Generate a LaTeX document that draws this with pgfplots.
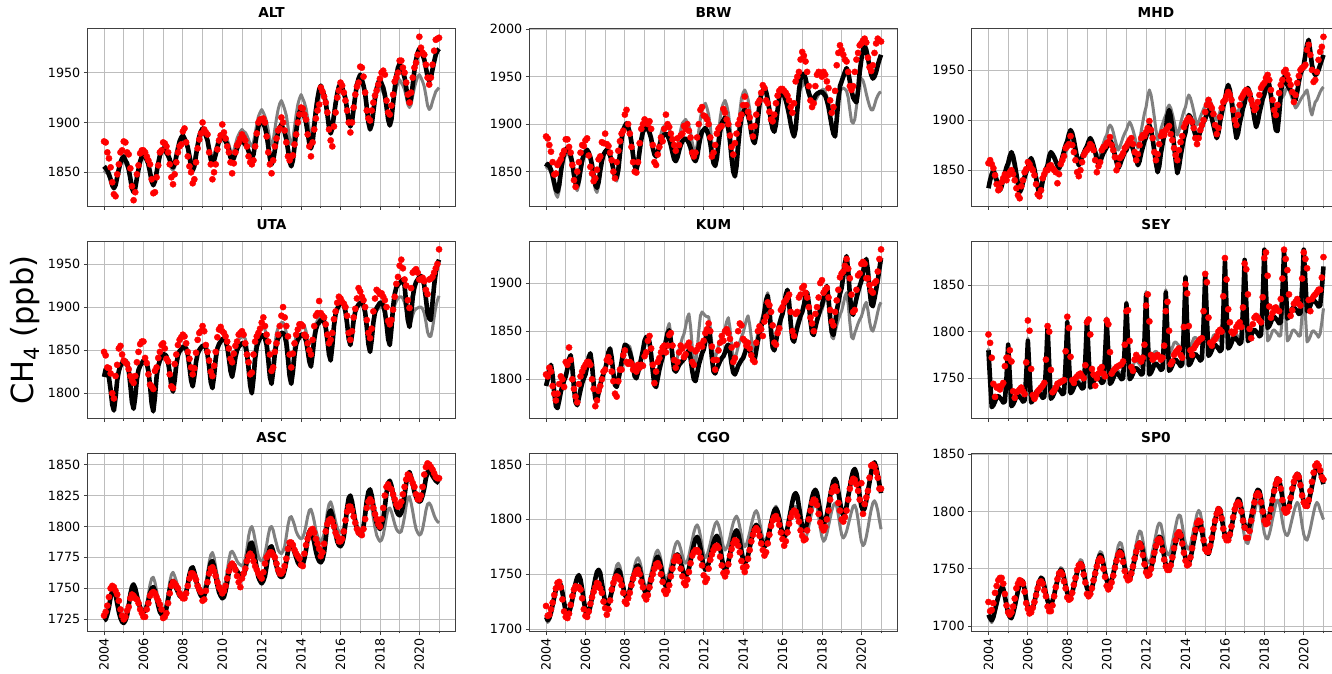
\documentclass[border=0pt]{standalone}
\usepackage{pgfplots}
\pgfplotsset{compat=1.18}
\usepackage{pgfplotstable}
\usepackage{fontspec}
\setmainfont{DejaVu Sans}
\definecolor{gridc}{HTML}{BDBDBD}
\definecolor{modg}{HTML}{808080}
\definecolor{obsr}{HTML}{FF0000}

\pgfplotstableread{
b g r
1856 1852 1881
1854 1850 1880
1852 1849 1870
1848 1846 1864
1843 1842 1855
1837 1838 1840
1834 1836 1828
1837 1839 1826
1845 1845 1848
1853 1852 1858
1860 1857 1870
1864 1860 1872
1866 1862 1881
1862 1859 1880
1859 1856 1870
1853 1852 1868
1844 1845 1854
1834 1836 1836
1830 1833 1822
1834 1836 1830
1844 1845 1848
1853 1853 1857
1861 1859 1869
1866 1864 1872
1869 1866 1872
1866 1863 1870
1863 1861 1866
1858 1857 1862
1850 1850 1858
1841 1843 1843
1837 1840 1829
1841 1843 1830
1850 1851 1845
1859 1859 1857
1867 1866 1870
1871 1870 1872
1874 1872 1880
1872 1870 1879
1870 1868 1876
1867 1865 1870
1863 1860 1858
1857 1854 1845
1855 1852 1838
1858 1855 1848
1866 1863 1860
1874 1870 1870
1881 1876 1876
1885 1880 1878
1887 1882 1891
1884 1880 1894
1880 1878 1880
1875 1874 1866
1866 1869 1856
1856 1863 1850
1852 1860 1839
1856 1863 1843
1867 1871 1860
1877 1878 1874
1886 1884 1883
1891 1888 1889
1894 1890 1900
1891 1888 1893
1887 1885 1890
1882 1881 1888
1873 1875 1870
1863 1868 1858
1859 1865 1843
1862 1868 1850
1868 1874 1858
1875 1880 1873
1881 1885 1882
1884 1888 1887
1886 1890 1898
1884 1888 1890
1881 1886 1884
1878 1883 1876
1872 1878 1870
1865 1872 1860
1862 1870 1849
1864 1872 1859
1869 1878 1870
1874 1884 1877
1878 1888 1880
1881 1891 1884
1882 1893 1888
1880 1891 1885
1878 1890 1882
1876 1887 1876
1871 1883 1866
1866 1878 1860
1864 1876 1858
1868 1880 1862
1878 1889 1876
1888 1898 1889
1896 1906 1900
1901 1910 1903
1904 1913 1903
1899 1910 1904
1895 1906 1900
1888 1901 1886
1876 1892 1870
1864 1882 1858
1858 1878 1849
1862 1882 1862
1872 1893 1876
1882 1904 1884
1890 1913 1892
1895 1919 1894
1898 1922 1905
1894 1918 1900
1890 1913 1892
1883 1907 1880
1873 1896 1866
1861 1883 1862
1856 1878 1866
1862 1883 1867
1876 1896 1878
1891 1908 1888
1902 1918 1900
1910 1924 1908
1914 1928 1915
1910 1924 1914
1906 1920 1908
1900 1914 1903
1890 1904 1888
1879 1893 1876
1874 1888 1866
1880 1893 1880
1896 1905 1893
1912 1917 1904
1924 1927 1912
1933 1934 1918
1937 1937 1935
1932 1933 1931
1927 1929 1926
1920 1923 1920
1908 1913 1910
1895 1902 1893
1889 1897 1882
1894 1901 1876
1907 1911 1896
1919 1921 1910
1929 1929 1925
1936 1934 1932
1939 1937 1940
1935 1934 1937
1930 1930 1930
1924 1925 1922
1913 1916 1912
1901 1906 1900
1896 1902 1890
1901 1906 1900
1914 1917 1915
1927 1927 1928
1938 1936 1936
1944 1941 1940
1948 1944 1956
1943 1940 1955
1937 1936 1946
1929 1929 1930
1915 1919 1912
1900 1907 1904
1893 1902 1902
1898 1905 1912
1911 1914 1920
1924 1922 1927
1934 1929 1932
1940 1934 1938
1944 1936 1944
1939 1933 1950
1935 1930 1952
1928 1925 1948
1916 1917 1922
1903 1909 1910
1897 1905 1908
1903 1909 1917
1919 1918 1928
1934 1928 1941
1947 1935 1945
1955 1940 1950
1959 1943 1962
1955 1940 1962
1951 1937 1955
1945 1933 1950
1935 1926 1940
1924 1918 1928
1919 1915 1920
1925 1918 1930
1938 1927 1945
1952 1935 1955
1963 1941 1960
1970 1946 1968
1974 1948 1986
1971 1945 1975
1968 1941 1970
1963 1936 1968
1955 1927 1958
1946 1917 1945
1942 1913 1938
1945 1915 1945
1953 1921 1958
1961 1926 1972
1968 1931 1983
1972 1933 1984
1974 1935 1985
}\tALT

\pgfplotstableread{
b g r
1855 1853 1887
1858 1855 1885
1856 1852 1878
1852 1849 1871
1846 1842 1860
1838 1833 1847
1831 1826 1848
1829 1823 1857
1836 1830 1860
1850 1844 1863
1861 1856 1868
1869 1864 1872
1873 1868 1884
1875 1870 1884
1872 1867 1876
1867 1862 1870
1859 1854 1857
1847 1842 1841
1838 1833 1834
1835 1830 1850
1841 1836 1860
1852 1848 1870
1862 1858 1878
1868 1865 1877
1871 1868 1883
1873 1870 1885
1870 1867 1867
1865 1862 1855
1857 1853 1848
1845 1841 1840
1836 1831 1843
1833 1828 1852
1839 1835 1863
1851 1848 1866
1861 1859 1881
1868 1867 1880
1871 1870 1890
1873 1872 1879
1871 1869 1877
1867 1866 1870
1861 1859 1862
1852 1850 1850
1845 1843 1843
1843 1840 1860
1852 1849 1872
1869 1866 1882
1884 1881 1890
1894 1891 1893
1898 1895 1910
1901 1898 1915
1897 1894 1900
1891 1888 1890
1881 1879 1876
1867 1864 1860
1856 1854 1850
1852 1850 1849
1859 1857 1860
1872 1871 1880
1884 1882 1895
1892 1890 1900
1895 1894 1905
1897 1896 1903
1895 1894 1900
1891 1890 1903
1885 1884 1895
1875 1874 1878
1868 1867 1860
1866 1865 1857
1870 1870 1868
1877 1881 1876
1883 1890 1886
1887 1896 1882
1889 1898 1895
1890 1900 1910
1888 1897 1900
1884 1894 1897
1878 1887 1890
1870 1878 1884
1863 1871 1878
1861 1868 1872
1865 1874 1885
1872 1885 1878
1878 1894 1888
1882 1901 1890
1884 1903 1898
1885 1905 1895
1883 1902 1900
1880 1898 1893
1875 1891 1886
1868 1881 1870
1863 1873 1866
1861 1870 1870
1866 1878 1886
1877 1893 1900
1886 1906 1915
1892 1916 1918
1894 1919 1909
1896 1922 1908
1893 1917 1905
1888 1910 1900
1880 1898 1886
1868 1880 1866
1859 1867 1870
1856 1862 1878
1864 1871 1890
1879 1890 1895
1892 1906 1897
1901 1917 1898
1904 1922 1916
1907 1925 1912
1902 1920 1905
1895 1912 1900
1882 1898 1888
1864 1878 1876
1850 1863 1868
1845 1858 1880
1856 1870 1890
1877 1893 1900
1895 1913 1905
1907 1927 1910
1912 1933 1920
1916 1936 1929
1913 1932 1920
1909 1926 1913
1902 1916 1907
1891 1900 1897
1883 1889 1887
1880 1885 1898
1889 1893 1910
1906 1910 1922
1921 1924 1925
1931 1933 1933
1935 1937 1941
1938 1940 1938
1934 1936 1925
1926 1929 1922
1915 1918 1913
1903 1906 1905
1895 1898 1903
1892 1895 1910
1900 1902 1922
1915 1915 1930
1928 1927 1935
1934 1933 1937
1934 1934 1937
1930 1930 1935
1925 1926 1933
1918 1920 1930
1910 1912 1925
1900 1902 1918
1892 1894 1912
1887 1890 1922
1895 1897 1945
1915 1914 1950
1935 1930 1955
1948 1938 1968
1952 1940 1976
1953 1945 1972
1948 1942 1966
1940 1936 1955
1933 1930 1940
1928 1925 1925
1925 1922 1918
1926 1922 1922
1930 1925 1940
1932 1928 1952
1933 1931 1955
1934 1934 1953
1934 1936 1950
1932 1937 1955
1930 1934 1952
1925 1929 1945
1918 1922 1938
1908 1915 1925
1898 1912 1912
1890 1912 1918
1887 1915 1935
1905 1922 1962
1925 1930 1975
1940 1935 1983
1945 1937 1978
1950 1938 1973
1955 1937 1968
1959 1935 1966
1955 1928 1955
1945 1915 1940
1935 1903 1936
1928 1901 1940
1925 1905 1955
1923 1918 1968
1935 1932 1975
1955 1945 1983
1968 1948 1985
1978 1946 1988
1983 1940 1990
1978 1932 1986
1970 1925 1970
1960 1919 1960
1952 1915 1956
1948 1915 1962
1950 1920 1975
1955 1926 1985
1962 1930 1990
1968 1933 1988
1973 1934 1987
}\tBRW

\pgfplotstableread{
b g r
1832 1836 1857
1840 1841 1860
1846 1845 1856
1850 1844 1852
1846 1841 1845
1840 1837 1836
1835 1833 1830
1830 1830 1832
1834 1833 1838
1841 1840 1842
1847 1844 1846
1853 1849 1840
1857 1852 1845
1864 1859 1848
1868 1862 1850
1864 1859 1846
1856 1853 1840
1846 1846 1832
1836 1838 1825
1828 1832 1822
1831 1835 1834
1838 1840 1840
1843 1845 1848
1848 1849 1851
1852 1852 1858
1859 1857 1856
1862 1860 1852
1858 1857 1850
1851 1852 1845
1842 1845 1836
1833 1838 1826
1826 1832 1824
1830 1835 1830
1839 1842 1842
1845 1847 1846
1851 1852 1850
1855 1856 1850
1864 1863 1854
1868 1866 1855
1866 1864 1852
1863 1861 1850
1859 1857 1848
1855 1853 1837
1852 1850 1846
1856 1853 1856
1863 1859 1860
1869 1864 1864
1875 1868 1872
1879 1871 1874
1886 1877 1876
1890 1880 1884
1887 1878 1875
1880 1873 1868
1871 1868 1860
1862 1862 1848
1855 1858 1844
1858 1860 1850
1863 1865 1858
1867 1868 1865
1871 1871 1868
1874 1873 1870
1879 1878 1872
1882 1880 1876
1879 1878 1874
1874 1875 1870
1868 1870 1860
1861 1866 1848
1856 1862 1854
1858 1865 1858
1863 1872 1870
1867 1877 1873
1870 1882 1874
1873 1885 1877
1878 1892 1878
1880 1895 1883
1877 1893 1875
1872 1888 1870
1865 1881 1863
1858 1875 1850
1852 1870 1855
1855 1873 1862
1860 1878 1864
1864 1883 1867
1868 1887 1872
1870 1890 1874
1875 1895 1877
1878 1898 1880
1876 1895 1882
1871 1890 1876
1865 1884 1868
1860 1877 1860
1855 1872 1866
1859 1878 1875
1867 1889 1882
1873 1898 1885
1879 1907 1884
1883 1913 1888
1891 1924 1892
1895 1930 1899
1890 1925 1890
1881 1915 1882
1869 1903 1868
1857 1890 1860
1848 1880 1866
1854 1884 1876
1867 1891 1884
1876 1896 1888
1885 1901 1885
1891 1905 1890
1904 1912 1892
1910 1915 1894
1904 1912 1886
1891 1906 1880
1875 1899 1872
1860 1891 1865
1847 1885 1860
1853 1889 1870
1864 1897 1878
1873 1903 1884
1882 1909 1893
1888 1913 1897
1899 1921 1900
1905 1925 1902
1903 1922 1900
1898 1916 1898
1891 1909 1892
1885 1901 1882
1880 1895 1876
1883 1898 1882
1889 1903 1890
1894 1907 1895
1898 1911 1900
1901 1914 1908
1907 1919 1915
1910 1922 1920
1907 1920 1915
1902 1915 1912
1895 1910 1906
1888 1904 1895
1882 1900 1886
1887 1903 1892
1898 1909 1903
1906 1914 1912
1914 1918 1918
1919 1921 1920
1930 1927 1924
1935 1930 1928
1930 1928 1925
1919 1923 1920
1906 1916 1910
1893 1910 1900
1882 1905 1895
1887 1908 1905
1897 1913 1915
1904 1916 1922
1912 1920 1925
1917 1923 1928
1927 1928 1930
1932 1930 1929
1928 1928 1926
1920 1923 1920
1911 1918 1915
1901 1912 1910
1893 1908 1912
1898 1910 1918
1907 1915 1925
1914 1918 1932
1921 1921 1935
1926 1923 1937
1935 1928 1942
1940 1930 1945
1935 1928 1940
1925 1924 1930
1912 1919 1920
1900 1914 1910
1890 1910 1905
1889 1912 1915
1905 1917 1927
1925 1920 1935
1940 1923 1940
1943 1925 1948
1938 1930 1950
1935 1932 1945
1932 1930 1940
1930 1926 1935
1927 1921 1928
1922 1916 1918
1920 1912 1925
1928 1914 1937
1938 1917 1944
1946 1920 1950
1950 1923 1952
1955 1925 1953
1965 1928 1955
1975 1930 1970
1980 1922 1975
1968 1910 1965
1955 1905 1950
1948 1912 1938
1945 1918 1940
1946 1920 1948
1950 1924 1960
1955 1928 1968
1960 1931 1973
1965 1933 1983
}\tMHD

\pgfplotstableread{
b g r
1819 1822 1848
1828 1825 1844
1826 1823 1830
1818 1817 1829
1804 1806 1823
1787 1792 1800
1780 1786 1794
1795 1798 1820
1815 1815 1833
1826 1825 1852
1832 1830 1855
1835 1833 1845
1838 1835 1838
1838 1835 1836
1835 1833 1834
1827 1826 1828
1810 1812 1820
1790 1795 1815
1782 1788 1812
1796 1800 1820
1816 1817 1836
1827 1826 1848
1832 1831 1857
1835 1834 1860
1838 1836 1860
1838 1836 1841
1835 1833 1835
1826 1826 1822
1809 1811 1810
1788 1793 1808
1779 1785 1805
1796 1800 1826
1819 1820 1830
1832 1831 1841
1838 1837 1848
1842 1840 1856
1845 1843 1858
1845 1843 1852
1843 1841 1840
1836 1836 1837
1824 1825 1822
1808 1812 1808
1802 1806 1806
1815 1818 1834
1833 1834 1845
1844 1843 1856
1849 1847 1862
1851 1850 1865
1854 1852 1868
1854 1852 1866
1852 1850 1858
1845 1844 1848
1831 1832 1840
1815 1818 1830
1808 1812 1822
1820 1823 1829
1836 1838 1847
1846 1847 1862
1850 1852 1870
1853 1854 1872
1855 1856 1878
1855 1856 1872
1853 1854 1856
1845 1847 1848
1831 1834 1838
1813 1819 1825
1806 1812 1820
1820 1825 1832
1840 1842 1848
1852 1852 1865
1857 1857 1874
1860 1860 1877
1863 1862 1872
1863 1862 1870
1861 1860 1866
1854 1855 1860
1841 1844 1852
1826 1831 1840
1819 1825 1836
1829 1835 1846
1842 1850 1855
1850 1858 1860
1854 1862 1868
1856 1864 1870
1858 1866 1872
1858 1866 1868
1855 1863 1858
1846 1855 1845
1829 1839 1836
1809 1820 1822
1800 1812 1824
1817 1828 1845
1840 1851 1860
1854 1864 1866
1860 1871 1870
1864 1874 1875
1867 1877 1882
1867 1877 1888
1864 1874 1878
1856 1866 1868
1839 1849 1860
1819 1829 1845
1811 1820 1826
1826 1836 1830
1846 1857 1848
1858 1870 1858
1864 1876 1868
1867 1879 1878
1870 1882 1890
1870 1882 1900
1867 1879 1888
1858 1870 1878
1840 1852 1866
1820 1831 1845
1811 1822 1830
1825 1837 1846
1845 1857 1858
1857 1868 1868
1862 1874 1874
1865 1877 1880
1868 1880 1880
1868 1880 1878
1866 1878 1868
1861 1872 1866
1850 1860 1858
1837 1846 1850
1831 1840 1845
1845 1853 1862
1863 1870 1878
1874 1880 1890
1880 1885 1893
1882 1888 1907
1885 1890 1893
1885 1890 1890
1883 1888 1888
1876 1881 1880
1862 1868 1868
1845 1852 1858
1838 1845 1862
1855 1860 1870
1878 1881 1886
1892 1893 1895
1898 1899 1905
1902 1902 1912
1905 1905 1910
1905 1905 1906
1903 1903 1904
1895 1896 1900
1881 1883 1890
1863 1867 1870
1856 1860 1862
1868 1871 1872
1885 1886 1888
1895 1894 1898
1900 1899 1910
1903 1901 1922
1905 1903 1918
1905 1903 1912
1902 1901 1908
1894 1893 1900
1877 1879 1885
1857 1862 1870
1848 1855 1864
1862 1866 1875
1882 1882 1895
1894 1891 1910
1899 1896 1920
1902 1898 1918
1905 1900 1915
1905 1900 1916
1903 1898 1912
1895 1892 1908
1881 1881 1900
1863 1868 1884
1856 1862 1880
1875 1875 1885
1900 1892 1897
1915 1902 1912
1923 1907 1927
1926 1910 1935
1928 1912 1948
1930 1912 1955
1932 1910 1945
1925 1905 1932
1904 1895 1925
1885 1883 1908
1877 1878 1899
1892 1884 1922
1912 1891 1940
1923 1896 1942
1929 1898 1944
1932 1899 1940
1935 1900 1932
1936 1900 1932
1933 1898 1934
1925 1893 1930
1910 1883 1920
1893 1871 1915
1887 1866 1932
1885 1866 1933
1905 1875 1935
1925 1888 1940
1940 1900 1945
1950 1908 1950
1955 1913 1967
}\tUTA

\pgfplotstableread{
b g r
1793 1795 1805
1800 1801 1803
1810 1808 1812
1815 1812 1808
1804 1802 1793
1786 1787 1785
1772 1775 1778
1770 1773 1785
1778 1780 1795
1787 1788 1803
1793 1794 1800
1799 1798 1792
1803 1802 1818
1811 1810 1815
1821 1818 1833
1825 1822 1820
1812 1810 1800
1791 1792 1790
1776 1778 1782
1773 1776 1776
1781 1783 1795
1789 1791 1803
1796 1797 1808
1801 1801 1812
1805 1805 1815
1813 1813 1818
1823 1821 1818
1827 1825 1815
1815 1814 1800
1795 1796 1790
1780 1782 1772
1778 1780 1778
1786 1788 1788
1794 1795 1793
1801 1801 1800
1806 1806 1808
1810 1810 1810
1818 1818 1820
1828 1826 1823
1832 1830 1818
1822 1821 1808
1806 1807 1798
1794 1797 1785
1792 1795 1782
1799 1801 1798
1808 1807 1810
1818 1812 1810
1828 1818 1825
1836 1827 1830
1835 1833 1818
1832 1835 1816
1828 1834 1818
1822 1827 1816
1812 1814 1810
1803 1805 1813
1801 1803 1808
1807 1809 1815
1814 1816 1812
1822 1821 1815
1830 1825 1814
1840 1833 1824
1844 1840 1828
1842 1845 1840
1838 1844 1845
1825 1832 1832
1808 1815 1815
1794 1800 1796
1792 1798 1808
1801 1807 1818
1810 1816 1822
1817 1823 1828
1823 1829 1833
1830 1834 1835
1840 1843 1828
1848 1853 1835
1851 1858 1846
1840 1847 1848
1823 1830 1835
1810 1817 1820
1808 1815 1812
1811 1823 1818
1815 1831 1828
1817 1837 1835
1819 1843 1832
1821 1847 1823
1824 1855 1826
1828 1864 1835
1830 1868 1838
1822 1855 1832
1809 1834 1818
1800 1818 1815
1798 1815 1829
1806 1830 1831
1815 1850 1835
1821 1866 1836
1827 1870 1834
1831 1868 1840
1839 1866 1848
1849 1865 1852
1853 1865 1858
1841 1854 1850
1822 1837 1834
1808 1824 1820
1806 1822 1810
1811 1828 1820
1815 1835 1830
1819 1840 1838
1822 1844 1845
1824 1848 1840
1828 1853 1850
1834 1860 1852
1836 1864 1848
1828 1853 1842
1816 1835 1833
1807 1822 1818
1805 1820 1822
1809 1827 1836
1814 1834 1850
1817 1839 1858
1820 1844 1856
1822 1848 1842
1827 1855 1840
1832 1862 1835
1834 1866 1838
1831 1857 1832
1825 1843 1825
1821 1832 1820
1820 1830 1818
1830 1839 1838
1840 1848 1850
1848 1855 1855
1855 1861 1852
1860 1866 1845
1870 1875 1860
1882 1885 1865
1887 1890 1880
1873 1877 1877
1850 1856 1870
1833 1841 1856
1830 1838 1838
1839 1846 1836
1849 1854 1848
1856 1860 1853
1863 1865 1872
1868 1869 1875
1877 1876 1880
1888 1885 1882
1893 1890 1885
1880 1879 1888
1858 1861 1870
1842 1847 1850
1839 1845 1845
1847 1852 1868
1854 1859 1870
1860 1864 1885
1866 1868 1888
1870 1872 1895
1877 1879 1897
1886 1886 1890
1890 1890 1885
1879 1880 1875
1861 1863 1864
1848 1850 1858
1846 1848 1850
1854 1854 1868
1861 1860 1875
1867 1865 1885
1873 1869 1900
1877 1872 1903
1884 1878 1890
1893 1885 1893
1897 1888 1895
1884 1877 1885
1864 1858 1872
1849 1844 1860
1846 1842 1856
1858 1849 1870
1871 1856 1882
1880 1862 1893
1889 1867 1906
1895 1871 1910
1907 1878 1912
1921 1886 1918
1928 1890 1925
1913 1878 1915
1888 1859 1905
1870 1844 1888
1867 1842 1870
1876 1848 1872
1884 1853 1893
1891 1858 1908
1897 1862 1910
1902 1865 1920
1911 1871 1922
1920 1877 1920
1925 1880 1905
1913 1872 1905
1893 1860 1898
1878 1852 1892
1876 1850 1890
1884 1855 1900
1893 1862 1902
1903 1870 1912
1915 1877 1925
1926 1880 1935
}\tKUM

\pgfplotstableread{
b g r
1780 1782 1797
1748 1749 1788
1719 1719 1772
1721 1721 1744
1725 1725 1730
1730 1730 1740
1731 1731 1741
1729 1729 1738
1727 1727 1742
1724 1724 1745
1725 1725 1763
1751 1751 1772
1786 1787 1772
1751 1752 1780
1720 1721 1768
1722 1723 1736
1726 1727 1729
1731 1732 1735
1732 1733 1736
1730 1731 1738
1728 1729 1740
1725 1726 1736
1726 1727 1733
1753 1755 1767
1790 1793 1812
1755 1757 1801
1724 1725 1760
1726 1727 1732
1730 1731 1728
1735 1736 1732
1736 1737 1736
1734 1735 1738
1732 1733 1740
1729 1730 1742
1730 1731 1745
1761 1763 1770
1805 1808 1806
1764 1766 1800
1728 1730 1759
1730 1732 1735
1734 1736 1737
1739 1741 1740
1740 1742 1744
1738 1740 1745
1736 1738 1746
1733 1735 1747
1734 1736 1748
1766 1768 1779
1810 1812 1816
1769 1772 1804
1734 1737 1773
1736 1739 1748
1740 1743 1745
1745 1748 1750
1746 1749 1752
1744 1747 1754
1742 1745 1755
1739 1742 1752
1740 1743 1750
1770 1772 1764
1812 1813 1810
1774 1775 1813
1740 1742 1797
1742 1744 1760
1746 1748 1754
1751 1753 1742
1752 1754 1750
1750 1752 1755
1748 1750 1760
1745 1747 1762
1746 1748 1755
1774 1776 1752
1812 1815 1812
1776 1780 1808
1744 1748 1778
1746 1750 1755
1750 1754 1758
1755 1759 1760
1756 1760 1762
1754 1758 1763
1752 1756 1764
1749 1753 1765
1750 1754 1768
1783 1786 1786
1830 1832 1822
1786 1792 1823
1749 1757 1790
1751 1759 1762
1755 1763 1758
1760 1768 1770
1761 1769 1775
1759 1767 1772
1757 1765 1770
1754 1762 1768
1755 1763 1772
1790 1796 1786
1840 1843 1828
1793 1802 1840
1754 1767 1811
1756 1769 1775
1760 1773 1770
1765 1778 1772
1766 1779 1774
1764 1777 1775
1762 1775 1773
1759 1772 1770
1760 1773 1772
1794 1803 1785
1842 1845 1822
1796 1809 1832
1758 1777 1801
1760 1779 1765
1764 1783 1768
1769 1788 1775
1770 1789 1778
1768 1787 1780
1766 1785 1782
1763 1782 1775
1765 1783 1772
1803 1815 1805
1858 1860 1851
1806 1818 1841
1764 1782 1806
1766 1784 1780
1770 1788 1775
1775 1793 1782
1776 1794 1785
1774 1792 1788
1772 1790 1790
1769 1787 1792
1771 1788 1793
1808 1818 1822
1862 1860 1862
1814 1820 1853
1774 1785 1815
1776 1787 1788
1780 1791 1785
1785 1796 1790
1786 1797 1792
1784 1795 1795
1782 1793 1800
1779 1790 1802
1781 1791 1800
1819 1822 1838
1875 1865 1879
1824 1823 1856
1782 1787 1824
1784 1789 1810
1788 1793 1800
1793 1798 1798
1794 1799 1800
1792 1797 1805
1790 1795 1808
1787 1792 1810
1789 1793 1805
1825 1821 1826
1877 1860 1873
1830 1822 1867
1790 1789 1840
1792 1791 1803
1796 1795 1793
1801 1800 1808
1802 1801 1815
1800 1799 1817
1798 1797 1815
1795 1795 1812
1797 1795 1810
1834 1820 1837
1888 1855 1879
1842 1821 1885
1804 1790 1860
1806 1792 1827
1810 1796 1815
1815 1801 1820
1816 1802 1825
1814 1800 1826
1812 1798 1823
1809 1795 1822
1810 1796 1835
1842 1819 1857
1886 1850 1888
1848 1819 1878
1814 1790 1866
1816 1792 1840
1820 1796 1817
1825 1801 1823
1826 1802 1830
1824 1800 1832
1822 1798 1835
1819 1795 1830
1820 1796 1828
1848 1819 1857
1888 1850 1885
1853 1818 1878
1822 1789 1868
1824 1791 1834
1828 1795 1822
1833 1800 1835
1834 1801 1838
1832 1799 1840
1830 1797 1842
1827 1794 1845
1828 1798 1845
1846 1810 1858
1870 1825 1880
}\tSEY

\pgfplotstableread{
b g r
1724 1726 1728
1725 1727 1731
1729 1730 1736
1735 1735 1743
1743 1741 1750
1748 1745 1752
1749 1746 1751
1745 1743 1748
1738 1738 1745
1731 1732 1740
1726 1728 1733
1723 1726 1728
1722 1725 1725
1724 1726 1727
1728 1731 1732
1736 1738 1735
1745 1747 1742
1751 1753 1745
1753 1754 1744
1750 1751 1742
1744 1746 1741
1739 1740 1738
1734 1736 1733
1732 1734 1730
1731 1733 1727
1732 1734 1727
1735 1738 1733
1740 1745 1738
1746 1753 1744
1750 1758 1746
1751 1759 1747
1748 1755 1746
1742 1748 1743
1736 1741 1740
1731 1736 1737
1729 1733 1733
1728 1732 1726
1729 1734 1727
1734 1738 1730
1741 1746 1738
1749 1755 1746
1755 1761 1752
1756 1763 1755
1754 1760 1754
1750 1756 1752
1747 1751 1750
1744 1748 1746
1743 1746 1744
1742 1745 1742
1743 1746 1742
1747 1749 1746
1753 1754 1752
1761 1761 1758
1766 1765 1762
1767 1766 1762
1763 1763 1760
1757 1759 1757
1751 1754 1752
1747 1751 1749
1744 1749 1747
1743 1748 1740
1744 1750 1741
1749 1754 1748
1756 1762 1755
1765 1771 1762
1771 1777 1766
1772 1779 1767
1768 1775 1764
1760 1767 1760
1753 1760 1755
1747 1754 1751
1744 1751 1749
1742 1750 1746
1743 1752 1748
1748 1756 1752
1755 1764 1758
1763 1773 1764
1769 1779 1768
1770 1780 1770
1769 1778 1768
1766 1775 1765
1764 1772 1760
1762 1770 1755
1761 1769 1751
1760 1768 1758
1761 1770 1762
1765 1774 1766
1772 1782 1772
1780 1792 1776
1786 1798 1778
1787 1800 1776
1782 1796 1772
1774 1789 1768
1766 1782 1765
1759 1776 1762
1756 1773 1760
1754 1772 1758
1756 1773 1763
1760 1778 1770
1768 1785 1775
1777 1793 1777
1783 1799 1779
1784 1800 1779
1780 1797 1777
1774 1791 1775
1768 1786 1770
1763 1781 1765
1760 1779 1762
1759 1778 1762
1760 1780 1764
1765 1784 1768
1772 1792 1774
1780 1801 1782
1786 1807 1787
1787 1808 1787
1784 1805 1785
1779 1801 1781
1775 1796 1778
1771 1793 1776
1769 1791 1774
1768 1790 1769
1769 1791 1768
1774 1795 1778
1781 1801 1785
1790 1808 1790
1796 1813 1794
1797 1814 1797
1793 1810 1798
1787 1804 1795
1780 1797 1790
1775 1792 1786
1772 1789 1782
1771 1788 1776
1773 1790 1779
1779 1794 1786
1790 1802 1796
1803 1812 1802
1811 1818 1805
1813 1820 1806
1809 1816 1804
1801 1810 1800
1794 1804 1795
1788 1799 1792
1785 1796 1788
1784 1795 1788
1786 1796 1790
1792 1800 1796
1802 1806 1805
1815 1814 1812
1823 1819 1816
1825 1820 1816
1820 1817 1813
1812 1811 1808
1804 1805 1803
1798 1800 1798
1795 1798 1795
1793 1797 1795
1795 1798 1793
1800 1802 1798
1810 1807 1806
1821 1814 1815
1828 1819 1820
1830 1820 1822
1825 1815 1820
1817 1807 1815
1809 1799 1810
1803 1793 1806
1800 1790 1802
1798 1788 1800
1800 1789 1806
1806 1793 1815
1816 1800 1825
1827 1808 1832
1835 1814 1834
1837 1815 1831
1833 1812 1830
1826 1807 1826
1819 1802 1822
1813 1798 1818
1810 1796 1816
1809 1795 1817
1811 1796 1820
1816 1801 1826
1825 1808 1832
1835 1817 1838
1842 1823 1842
1844 1824 1841
1840 1819 1838
1834 1812 1835
1828 1804 1832
1824 1798 1826
1821 1795 1822
1820 1793 1822
1821 1794 1825
1825 1798 1832
1831 1805 1842
1839 1813 1848
1844 1818 1851
1845 1819 1850
1844 1817 1848
1841 1813 1846
1839 1809 1843
1837 1806 1840
1836 1804 1839
1835 1803 1839
}\tASC

\pgfplotstableread{
b g r
1711 1709 1721
1708 1706 1712
1710 1708 1713
1715 1713 1718
1722 1720 1724
1729 1727 1731
1736 1734 1737
1741 1739 1742
1743 1741 1743
1740 1738 1738
1733 1731 1727
1724 1722 1716
1716 1715 1711
1713 1712 1710
1715 1714 1714
1720 1720 1722
1727 1727 1730
1735 1735 1736
1742 1742 1739
1747 1748 1738
1749 1750 1738
1745 1746 1736
1736 1737 1728
1726 1727 1718
1717 1718 1712
1713 1714 1711
1715 1716 1716
1721 1722 1723
1729 1730 1729
1738 1737 1734
1746 1745 1738
1752 1751 1742
1754 1753 1741
1751 1750 1737
1742 1742 1733
1733 1733 1725
1724 1725 1719
1721 1722 1713
1723 1724 1718
1728 1730 1726
1734 1737 1736
1741 1745 1742
1747 1752 1746
1752 1758 1748
1754 1760 1747
1752 1757 1745
1745 1750 1740
1738 1741 1733
1731 1734 1725
1729 1731 1723
1730 1733 1728
1735 1738 1733
1741 1745 1740
1746 1751 1746
1752 1758 1750
1757 1763 1753
1758 1765 1754
1755 1762 1750
1749 1756 1743
1741 1747 1738
1735 1741 1730
1732 1738 1727
1734 1740 1731
1739 1745 1738
1746 1752 1745
1752 1758 1750
1759 1765 1755
1764 1770 1759
1766 1772 1760
1763 1769 1757
1757 1763 1750
1748 1754 1743
1742 1748 1735
1739 1745 1732
1740 1747 1735
1745 1752 1740
1751 1759 1748
1756 1766 1755
1762 1773 1762
1767 1778 1766
1768 1780 1766
1766 1778 1762
1761 1773 1755
1755 1767 1748
1750 1762 1742
1748 1760 1740
1750 1762 1745
1755 1767 1752
1762 1774 1760
1770 1781 1767
1777 1788 1770
1782 1793 1772
1784 1795 1772
1781 1792 1770
1774 1785 1765
1765 1776 1758
1757 1768 1749
1754 1765 1743
1756 1767 1746
1760 1772 1755
1766 1778 1763
1773 1785 1768
1779 1791 1772
1783 1796 1775
1785 1798 1776
1782 1795 1774
1774 1789 1766
1765 1781 1758
1757 1775 1751
1754 1772 1748
1756 1774 1752
1761 1778 1759
1768 1784 1767
1776 1791 1773
1783 1797 1778
1788 1801 1781
1790 1803 1780
1787 1800 1776
1780 1793 1770
1771 1785 1762
1763 1778 1756
1760 1775 1752
1762 1777 1757
1767 1782 1764
1774 1788 1772
1781 1795 1780
1788 1801 1786
1793 1806 1790
1795 1808 1792
1793 1805 1790
1788 1798 1785
1782 1790 1778
1777 1783 1772
1775 1780 1767
1777 1782 1770
1782 1786 1778
1789 1793 1786
1796 1799 1794
1803 1806 1799
1808 1810 1802
1810 1812 1803
1807 1809 1800
1801 1803 1795
1793 1794 1788
1787 1788 1782
1784 1785 1776
1786 1786 1780
1792 1790 1788
1800 1796 1796
1808 1801 1802
1816 1807 1806
1822 1811 1808
1824 1812 1807
1821 1809 1803
1812 1801 1798
1802 1791 1790
1793 1783 1785
1790 1780 1781
1792 1782 1782
1797 1787 1790
1805 1794 1800
1812 1801 1808
1820 1808 1815
1825 1813 1818
1827 1815 1817
1824 1812 1813
1816 1803 1805
1807 1792 1797
1799 1784 1793
1796 1780 1790
1798 1782 1793
1804 1787 1800
1812 1794 1808
1821 1801 1818
1829 1808 1825
1835 1813 1829
1837 1815 1830
1834 1812 1826
1825 1804 1815
1816 1794 1808
1807 1786 1800
1804 1783 1798
1806 1785 1802
1812 1789 1808
1821 1795 1818
1829 1801 1828
1838 1807 1834
1844 1812 1837
1846 1813 1836
1842 1809 1832
1833 1800 1826
1821 1789 1818
1812 1780 1833
1808 1776 1805
1810 1778 1814
1817 1784 1820
1826 1792 1826
1834 1801 1838
1843 1809 1849
1850 1815 1850
1852 1817 1848
1848 1814 1843
1840 1808 1838
1832 1799 1828
1824 1791 1828
}\tCGO

\pgfplotstableread{
b g r
1710 1708 1721
1707 1705 1713
1705 1703 1714
1708 1706 1720
1714 1712 1729
1720 1718 1735
1726 1724 1740
1731 1729 1742
1734 1732 1742
1733 1731 1737
1726 1724 1728
1718 1716 1718
1711 1710 1712
1708 1707 1710
1707 1706 1712
1711 1710 1717
1717 1716 1724
1724 1723 1733
1731 1730 1737
1737 1736 1740
1740 1739 1739
1739 1738 1737
1732 1731 1730
1723 1722 1720
1716 1715 1715
1713 1712 1711
1712 1711 1712
1716 1715 1716
1721 1721 1721
1728 1728 1727
1734 1734 1733
1739 1740 1738
1742 1743 1739
1741 1742 1737
1735 1736 1731
1728 1728 1726
1722 1722 1717
1718 1719 1713
1718 1718 1713
1722 1722 1718
1727 1728 1726
1734 1735 1734
1740 1742 1741
1746 1748 1746
1749 1751 1747
1748 1750 1745
1742 1744 1739
1735 1736 1733
1729 1730 1725
1726 1727 1723
1726 1726 1724
1729 1730 1729
1735 1736 1736
1741 1743 1742
1747 1749 1749
1752 1755 1753
1755 1758 1754
1754 1757 1752
1747 1750 1745
1739 1742 1738
1733 1735 1728
1730 1732 1726
1729 1731 1728
1733 1735 1733
1739 1741 1740
1746 1749 1746
1753 1755 1752
1759 1762 1757
1762 1765 1759
1761 1764 1757
1754 1757 1750
1746 1749 1743
1740 1742 1735
1737 1739 1732
1736 1738 1734
1740 1742 1738
1745 1749 1744
1752 1756 1751
1758 1763 1757
1763 1770 1762
1766 1773 1764
1765 1772 1762
1759 1765 1756
1751 1756 1748
1745 1749 1743
1741 1746 1740
1741 1745 1741
1745 1750 1746
1751 1756 1752
1758 1765 1759
1764 1772 1765
1770 1779 1770
1773 1783 1772
1772 1782 1769
1765 1775 1762
1757 1766 1754
1750 1759 1747
1747 1756 1744
1746 1755 1745
1750 1759 1750
1756 1766 1757
1763 1773 1764
1769 1780 1770
1775 1787 1775
1778 1790 1776
1777 1789 1773
1769 1782 1766
1761 1773 1758
1753 1766 1752
1750 1763 1749
1749 1762 1749
1753 1766 1753
1759 1773 1760
1766 1780 1768
1773 1787 1775
1779 1794 1780
1782 1797 1782
1781 1796 1779
1774 1788 1772
1766 1779 1764
1759 1772 1757
1756 1768 1753
1755 1767 1754
1759 1771 1760
1766 1777 1768
1774 1785 1777
1781 1791 1784
1787 1798 1790
1791 1801 1792
1790 1799 1791
1783 1791 1784
1774 1781 1775
1767 1772 1767
1764 1768 1765
1763 1767 1765
1768 1771 1770
1775 1777 1777
1784 1784 1785
1792 1791 1792
1799 1797 1798
1803 1800 1802
1802 1799 1800
1795 1793 1794
1786 1786 1785
1779 1780 1778
1776 1776 1775
1775 1776 1775
1779 1780 1780
1786 1785 1787
1794 1792 1795
1801 1798 1802
1807 1803 1806
1811 1806 1808
1810 1804 1806
1803 1796 1800
1795 1786 1792
1788 1777 1786
1785 1773 1777
1784 1772 1777
1788 1777 1783
1795 1783 1792
1802 1792 1800
1809 1799 1808
1816 1806 1814
1819 1810 1816
1818 1808 1814
1811 1800 1808
1803 1790 1800
1796 1781 1792
1793 1777 1789
1792 1776 1790
1796 1780 1795
1803 1786 1802
1811 1794 1810
1819 1800 1818
1825 1807 1824
1829 1810 1828
1828 1808 1827
1821 1801 1820
1812 1791 1810
1805 1784 1802
1802 1780 1799
1801 1779 1800
1805 1782 1804
1811 1788 1812
1818 1794 1820
1824 1800 1826
1830 1805 1830
1833 1808 1832
1832 1806 1830
1824 1798 1823
1816 1788 1814
1808 1780 1808
1805 1776 1805
1804 1775 1805
1808 1779 1810
1815 1785 1818
1822 1792 1826
1829 1799 1834
1836 1805 1840
1839 1808 1842
1838 1806 1840
1834 1801 1836
1829 1797 1830
1824 1793 1828
}\tSPO

\newcommand\drawpanel[1]{%
  \addplot[modg, line width=3pt, line join=round] table[x expr=2004+\coordindex/12, y=g]{#1};
  \addplot[black, line width=4.6pt, line join=round] table[x expr=2004+\coordindex/12, y=b]{#1};
  \addplot[only marks, mark=*, mark size=3.1pt, mark options={draw=obsr, fill=obsr}] table[x expr=2004+\coordindex/12, y=r]{#1};
}

\pgfplotsset{
  panel/.style={
    scale only axis, width=368.5pt, height=177.7pt,
    anchor=south west,
    xmin=2003.15, xmax=2021.85,
    xtick={2004,2006,...,2020},
    minor xtick={2005,2007,...,2021},
    grid=both,
    major grid style={draw=gridc, line width=0.8pt},
    minor grid style={draw=gridc, line width=0.8pt},
    axis line style={draw=black!75, line width=0.8pt},
    every tick/.style={draw=black!75, line width=0.8pt},
    major tick length=3.5pt, minor tick length=2pt,
    tick align=outside, xtick pos=bottom, ytick pos=left,
    tick label style={font=\fontsize{12.7}{14}\selectfont},
    /pgf/number format/assume math mode=true,
    /pgf/number format/1000 sep={},
    title style={font=\fontsize{13.7}{15}\selectfont\bfseries, at={(0.5,1)}, anchor=base, yshift=5pt},
  },
  nolab/.style={xticklabels={}},
  botlab/.style={xticklabel style={rotate=90, anchor=east}},
}

\begin{document}
\begin{tikzpicture}
% top row
\begin{axis}[panel, nolab, at={(87.3pt,467.7pt)}, title={ALT}, ymin=1815.9, ymax=1994.2, ytick={1850,1900,1950}]
\drawpanel{\tALT}
\end{axis}
\begin{axis}[panel, nolab, at={(529.3pt,467.7pt)}, title={BRW}, ymin=1813.5, ymax=2000.6, ytick={1850,1900,1950,2000}]
\drawpanel{\tBRW}
\end{axis}
\begin{axis}[panel, nolab, at={(971.7pt,467.7pt)}, title={MHD}, ymin=1814, ymax=1991.2, ytick={1850,1900,1950}]
\drawpanel{\tMHD}
\end{axis}
% middle row
\begin{axis}[panel, nolab, at={(87.3pt,255.3pt)}, title={UTA}, ymin=1770.5, ymax=1976.7, ytick={1800,1850,1900,1950}]
\drawpanel{\tUTA}
\end{axis}
\begin{axis}[panel, nolab, at={(529.3pt,255.3pt)}, title={KUM}, ymin=1759, ymax=1943.75, ytick={1800,1850,1900}]
\drawpanel{\tKUM}
\end{axis}
\begin{axis}[panel, nolab, at={(971.7pt,255.3pt)}, title={SEY}, ymin=1706.6, ymax=1897.3, ytick={1750,1800,1850}]
\drawpanel{\tSEY}
\end{axis}
% bottom row
\begin{axis}[panel, botlab, at={(87.3pt,42.7pt)}, title={ASC}, ymin=1715.3, ymax=1858.9, ytick={1725,1750,1775,1800,1825,1850}]
\drawpanel{\tASC}
\end{axis}
\begin{axis}[panel, botlab, at={(529.3pt,42.7pt)}, title={CGO}, ymin=1697.9, ymax=1860, ytick={1700,1750,1800,1850}]
\drawpanel{\tCGO}
\end{axis}
\begin{axis}[panel, botlab, at={(971.7pt,42.7pt)}, title={SP0}, ymin=1695.4, ymax=1850.6, ytick={1700,1750,1800,1850}]
\drawpanel{\tSPO}
\end{axis}
\node[rotate=90, font=\fontsize{30.5}{31}\selectfont, inner sep=0pt] at (25pt,344pt) {CH\raisebox{-0.22em}{\fontsize{21}{21}\selectfont 4} (ppb)};
\pgfresetboundingbox
\path[use as bounding box] (0pt,0pt) rectangle (1332pt,674pt);
\end{tikzpicture}
\end{document}
